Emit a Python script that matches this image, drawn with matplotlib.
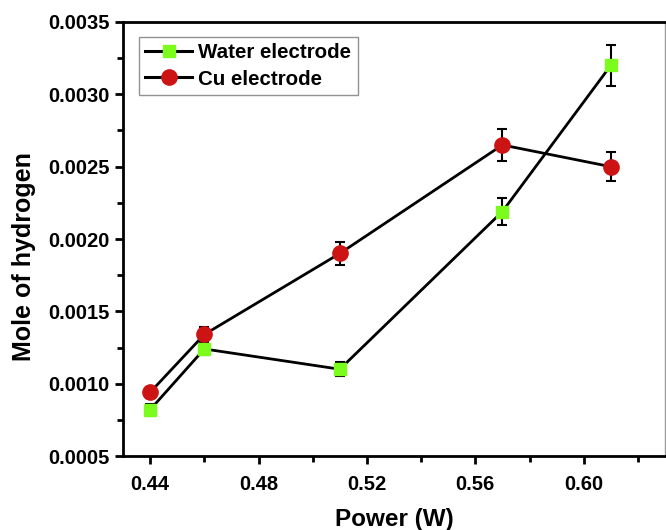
import matplotlib.pyplot as plt
from matplotlib.lines import Line2D
import numpy as np

plt.rcParams['font.family'] = ['Liberation Sans', 'DejaVu Sans']

power = [0.44, 0.46, 0.51, 0.57, 0.61]
water = [0.00082, 0.00124, 0.00110, 0.00219, 0.00320]
water_err = [0.00004, 0.00004, 0.00005, 0.00009, 0.00014]
cu = [0.00094, 0.00134, 0.00190, 0.00265, 0.00250]
cu_err = [0.00004, 0.00005, 0.00008, 0.00011, 0.00010]

green = '#7CFC1C'
red = '#CC1414'

fig = plt.figure(figsize=(6.66, 5.30), dpi=100)
ax = fig.add_axes([0.1847, 0.1396, 0.8138, 0.8189])

ax.errorbar(power, water, yerr=water_err, color='black', lw=2,
            marker='s', ms=9, mfc=green, mec=green,
            ecolor='black', elinewidth=1.5, capsize=3.5, capthick=1.5)
ax.errorbar(power, cu, yerr=cu_err, color='black', lw=2,
            marker='o', ms=11, mfc=red, mec=red,
            ecolor='black', elinewidth=1.5, capsize=3.5, capthick=1.5)

ax.set_xlim(0.43, 0.63)
ax.set_ylim(0.0005, 0.0035)
ax.set_xticks([0.44, 0.48, 0.52, 0.56, 0.60])
ax.set_xticks(np.arange(0.46, 0.63, 0.04), minor=True)
ax.set_yticks(np.arange(0.0005, 0.00351, 0.0005))
ax.set_yticks(np.arange(0.00075, 0.0035, 0.0005), minor=True)
ax.set_xticklabels(['0.44', '0.48', '0.52', '0.56', '0.60'])
ax.set_yticklabels(['%.4f' % v for v in np.arange(0.0005, 0.00351, 0.0005)])

for lab in ax.get_xticklabels() + ax.get_yticklabels():
    lab.set_fontweight('bold')
    lab.set_fontsize(14.5)
ax.tick_params(which='major', direction='out', length=6, width=2)
ax.tick_params(which='minor', direction='out', length=4, width=2)
ax.tick_params(axis='x', pad=8)

for s in ['left', 'bottom', 'top']:
    ax.spines[s].set_linewidth(2)
ax.spines['right'].set_linewidth(1)
ax.spines['right'].set_color('#999999')

ax.set_xlabel('Power (W)', fontsize=17.5, fontweight='bold', labelpad=10)
ax.set_ylabel('Mole of hydrogen', fontsize=18, fontweight='bold')
ax.yaxis.set_label_coords(-0.16, 0.46)

handles = [Line2D([], [], color='black', lw=2.2, marker='s', ms=9, mfc=green, mec=green),
           Line2D([], [], color='black', lw=2.2, marker='o', ms=11, mfc=red, mec=red)]
leg = ax.legend(handles, ['Water electrode', 'Cu electrode'], loc='upper left',
                bbox_to_anchor=(0.029, 0.965), fancybox=False,
                edgecolor='#777777', prop={'weight': 'bold', 'size': 14.8},
                handlelength=2.3, handletextpad=0.3, borderpad=0.3,
                labelspacing=0.35, borderaxespad=0.0)
leg.get_frame().set_linewidth(1)

fig.savefig('out.png', dpi=100)
